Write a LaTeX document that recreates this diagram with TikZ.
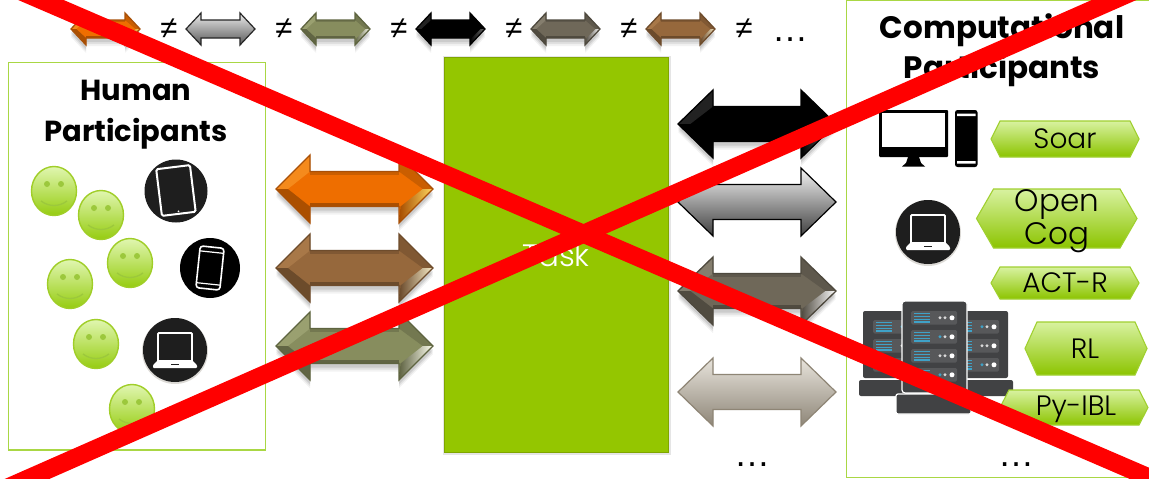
\documentclass[tikz,border=0pt]{standalone}
\usepackage{fontspec}
\setmainfont{Poppins}
\newfontfamily\lightfont{Poppins Light}
\newfontfamily\dotfont{Liberation Sans}
\usetikzlibrary{calc}
\definecolor{boxgreen}{HTML}{A9D744}
\definecolor{taskgreen}{HTML}{94C600}
\definecolor{taskedge}{HTML}{7FA600}
\definecolor{hexedge}{HTML}{A0D030}
\definecolor{hextop}{HTML}{D8F2A0}
\definecolor{hexbot}{HTML}{8CC400}
\definecolor{eyegreen}{HTML}{9CC83C}
\definecolor{smileedge}{HTML}{A0CE28}
\definecolor{smiletop}{HTML}{E0F6B0}
\definecolor{smilebot}{HTML}{96CC10}
\definecolor{xred}{HTML}{FF0000}
\definecolor{lapdark}{HTML}{1E1E1E}
\definecolor{lighttop}{HTML}{E8E4DC}
\definecolor{lightbot}{HTML}{8E8678}
\definecolor{lightedge}{HTML}{8E8575}
\definecolor{rackdark}{HTML}{414244}
\definecolor{rackslot}{HTML}{57585A}
\definecolor{rackblue}{HTML}{3FA2C8}
\definecolor{orgE}{HTML}{A85008}\definecolor{orgA}{HTML}{F58A1C}\definecolor{orgB}{HTML}{EE6E00}\definecolor{orgH}{HTML}{FFD860}
\definecolor{brnE}{HTML}{6E4C2C}\definecolor{brnA}{HTML}{A87848}\definecolor{brnB}{HTML}{96683C}\definecolor{brnH}{HTML}{F8ECC8}
\definecolor{olvE}{HTML}{5E6440}\definecolor{olvA}{HTML}{9AA070}\definecolor{olvB}{HTML}{878D5E}\definecolor{olvH}{HTML}{FFFFF0}
\definecolor{blkE}{HTML}{000000}\definecolor{blkA}{HTML}{222222}\definecolor{blkB}{HTML}{000000}\definecolor{blkH}{HTML}{707070}
\definecolor{tauE}{HTML}{4E493E}\definecolor{tauA}{HTML}{857E6E}\definecolor{tauB}{HTML}{6F6859}\definecolor{tauH}{HTML}{FFFFFF}
\tikzset{
  x=1pt,y=-1pt,
  titletext/.style={font=\fontsize{29}{41}\selectfont\bfseries,align=center,text=black},
  comptext/.style={font=\fontsize{31}{40}\selectfont\bfseries,align=center,text=black},
  hextext/.style={font=\lightfont\fontsize{28}{33}\selectfont,align=center,text=black},
  bighextext/.style={font=\lightfont\fontsize{31}{33}\selectfont,align=center,text=black},
  tasktext/.style={font=\lightfont\fontsize{31}{31}\selectfont,text=white},
  neqsign/.style={font=\dotfont\itshape\fontsize{31}{31}\selectfont,text=black,inner sep=0pt},
  dotstext/.style={font=\dotfont\fontsize{36}{36}\selectfont,text=black,anchor=base,inner sep=0pt},
  panel/.style={draw=boxgreen,line width=1.6pt,fill=white},
  hexshape/.style={draw=hexedge,line width=1.1pt,top color=hextop,bottom color=hexbot},
  smile/.style={draw=smileedge,line width=1.4pt,top color=smiletop,bottom color=smilebot},
  slash/.style={draw=xred,line width=18pt}
}
% arrow: x y halfwidth halfheight shaft-half head-length colour-prefix
\newcommand\bevarrow[7]{%
 \pgfmathsetmacro\xa{#1-#3}\pgfmathsetmacro\xb{#1+#3}%
 \pgfmathsetmacro\xc{#1-#3+#6}\pgfmathsetmacro\xd{#1+#3-#6}%
 \pgfmathsetmacro\yt{#2-#4}\pgfmathsetmacro\yb{#2+#4}%
 \pgfmathsetmacro\st{#2-#5}\pgfmathsetmacro\sb{#2+#5}%
 \pgfmathsetmacro\ia{\xa+#6*.35}\pgfmathsetmacro\ib{\xb-#6*.3}%
 \pgfmathsetmacro\ma{\st+#5*.22}\pgfmathsetmacro\mb{\sb-#5*.22}%
 \def\arrpath{(\xa,#2)--(\xc,\yt)--(\xc,\st)--(\xd,\st)--(\xd,\yt)--(\xb,#2)--(\xd,\yb)--(\xd,\sb)--(\xc,\sb)--(\xc,\yb)--cycle}%
 \foreach \d/\o in {8/.05,6/.07,4/.09}{\fill[black,opacity=\o,shift={(0,\d)}] \arrpath;}%
 \fill[#7B] \arrpath;
 \fill[#7A] (\xa,#2)--(\xc,\yt)--(\xc,\st)--(\ia,#2)--cycle;
 \fill[#7B!72!black] (\xa,#2)--(\xc,\yb)--(\xc,\sb)--(\ia,#2)--cycle;
 \fill[#7B!85!black] (\xb,#2)--(\xd,\yt)--(\xd,\st)--(\ib,#2)--cycle;
 \fill[#7B!85!black] (\xc,\st) rectangle (\xd,\ma);
 \fill[#7B!72!black] (\xc,\mb) rectangle (\xd,\sb);
 \shade[left color=#7B!70!black,right color=#7H] (\xb,#2)--(\ib,#2)--(\xd+1.5,\sb)--(\xd,\yb)--cycle;
 \draw[#7E,line width=1.3pt,line join=miter] \arrpath;
}
% plain gradient arrow
\newcommand\plainarrow[9]{%
 \pgfmathsetmacro\xa{#1-#3}\pgfmathsetmacro\xb{#1+#3}%
 \pgfmathsetmacro\xc{#1-#3+#6}\pgfmathsetmacro\xd{#1+#3-#6}%
 \pgfmathsetmacro\yt{#2-#4}\pgfmathsetmacro\yb{#2+#4}%
 \pgfmathsetmacro\st{#2-#5}\pgfmathsetmacro\sb{#2+#5}%
 \draw[#9,line width=1.2pt,top color=#7,bottom color=#8] (\xa,#2)--(\xc,\yt)--(\xc,\st)--(\xd,\st)--(\xd,\yt)--(\xb,#2)--(\xd,\yb)--(\xd,\sb)--(\xc,\sb)--(\xc,\yb)--cycle;
}
\newcommand\smiley[2]{%
 \shade[smile] (#1,#2) ellipse (22.5 and 24.5);
 \fill[eyegreen] (#1-7,#2-7) circle (3);
 \fill[eyegreen] (#1+7,#2-7) circle (3);
 \draw[eyegreen,line width=1.3pt] (#1-13,#2+10) .. controls (#1-5,#2+16) and (#1+5,#2+16) .. (#1+13,#2+10);
}
\newcommand\laptop[1]{%
 \fill[lightbot,opacity=.3,shift={(0,1)}] (#1) circle (33);
 \fill[lapdark] (#1) circle (32);
 \begin{scope}[shift={(#1)}]
  \draw[white,line width=1.8pt,fill=lapdark,rounded corners=1pt] (-17,-17)--(17,-17)--(17,12)--(-17,12)--cycle;
  \fill[white,rounded corners=1pt] (-22,15)--(-17,10)--(17,10)--(22,15)--(22,18)--(-22,18)--cycle;
  \fill[lapdark] (-4,13.5) rectangle (4,14.8);
 \end{scope}
}
\newcommand\serverrow[3]{% x y lit
 \fill[rackslot,rounded corners=1.5pt] (#1,#2) rectangle ++(46,13.5);
 \foreach \k in {2.5,5.5,8.5,11}{\draw[rackblue,line width=1.3pt] (#1+3,#2+\k)--(#1+19,#2+\k);}
 \fill[#3] (#1+29,#2+6.8) circle (1.6);
 \fill[white!70!gray] (#1+34,#2+6.8) circle (1.6);
 \fill[white] (#1+41,#2+6.8) circle (2.5);
}
\newcommand\hexlabel[5]{% x1 x2 y1 y2 inset
 \pgfmathsetmacro\hm{(#3+#4)/2}%
 \pgfmathsetmacro\hi{#1+#5}\pgfmathsetmacro\hj{#2-#5}%
 \shade[hexshape] (#1,\hm)--(\hi,#3)--(\hj,#3)--(#2,\hm)--(\hj,#4)--(\hi,#4)--cycle;
}
\begin{document}
\begin{tikzpicture}
\useasboundingbox (0,0) rectangle (1149,479);
\fill[white] (0,0) rectangle (1149,479);
\begin{scope}
\clip (0,0) rectangle (1149,479);
% panels
\draw[panel] (8.5,62.5) rectangle (265.5,450);
\draw[panel] (846.5,0.5) rectangle (1170,477.5);
\fill[black!10] (442.5,55.5) rectangle (670.5,454.5);
\draw[fill=taskgreen,draw=taskedge,line width=1.2pt] (444.5,57.5) rectangle (668.5,452.5);
\node[tasktext] (task) at (556,255) {Task};
% titles
\node[titletext] (human) at (136,115) {Human\\Participants};
\node[comptext] (comp) at (1002,50) {Computational\\Participants};
% top row
\bevarrow{105.5}{29}{34.5}{16}{9}{15}{org}
\plainarrow{220.5}{29}{34.5}{16}{9}{15}{white!85!gray}{gray!70!black}{black!85}
\bevarrow{335.5}{29}{34.5}{16}{9}{15}{olv}
\bevarrow{450.5}{29}{34.5}{16}{9}{15}{blk}
\bevarrow{565.5}{29}{34.5}{16}{9}{15}{tau}
\bevarrow{680.5}{29}{34.5}{16}{9}{15}{brn}
\foreach \nx/\nn in {169/a,284/b,399/c,514/d,629/e,744/f}{\node[neqsign] (neq\nn) at (\nx,29) {≠};}
\node[dotstext] (topdots) at (790,41) {…};
% large arrows left
\bevarrow{354.5}{189}{78.5}{34}{17.5}{34}{org}
\bevarrow{354.5}{268}{78.5}{34}{17.5}{34}{brn}
\bevarrow{354.5}{346}{78.5}{34}{17.5}{34}{olv}
% large arrows right
\bevarrow{757}{124}{79}{34}{17.5}{35}{blk}
\plainarrow{757}{202}{79}{34}{17.5}{35}{white!92!gray}{black!75}{black}
\bevarrow{757}{291}{79}{34}{17.5}{35}{tau}
\plainarrow{757}{392}{79}{34}{17.5}{35}{lighttop}{lightbot}{lightedge}
\node[dotstext] (middots) at (752,466) {…};
% smileys
\smiley{54}{191}\smiley{101}{215}\smiley{130}{263}\smiley{70}{284}\smiley{96}{344}\smiley{132}{409}
% tablet
\fill[lapdark] (176,191) circle (31.5);
\draw[white,line width=2pt,fill=lapdark,rounded corners=1.5pt,rotate around={7:(176,191)}] (159,167) rectangle (193,214);
\fill[white,rotate around={7:(176,191)}] (176,211.5) circle (1);
% phone
\fill[black] (210,268) circle (30);
\draw[white,line width=1.6pt,fill=black,rounded corners=3pt,rotate around={-6:(210,268)}] (198,247) rectangle (222,289);
\draw[white,line width=1.2pt,rotate around={-6:(210,268)}] (198,252)--(222,252) (198,284)--(222,284);
% laptops
\laptop{175,350}
\laptop{928,232}
% desktop
\fill[black,rounded corners=1pt] (879,110) rectangle (948,157);
\fill[white] (882,113) rectangle (945,147);
\fill[black] (908,157)--(919,157)--(921,163)--(925,166.5)--(902,166.5)--(906,163)--cycle;
\fill[black,rounded corners=2.5pt] (955,110) rectangle (977.5,167);
\fill[white] (957,113.5) rectangle (975.5,116) (957,161) rectangle (975.5,163.5);
% servers
\fill[rackdark,rounded corners=2pt] (863,311) rectangle (905,378);
\fill[rackdark,rounded corners=2pt] (859,380) rectangle (905,396);
\fill[rackdark,rounded corners=2pt] (962,311) rectangle (1008,378);
\fill[rackdark,rounded corners=2pt] (962,380) rectangle (1013,396);
\serverrow{873}{320}{rackblue}\serverrow{873}{339}{white!70!gray}\serverrow{873}{358}{rackblue}
\serverrow{953}{320}{rackblue}\serverrow{953}{339}{white!70!gray}\serverrow{953}{358}{rackblue}
\draw[white,line width=1.2pt,fill=rackdark,rounded corners=3pt] (902,301) rectangle (967,393);
\draw[white,line width=1.2pt,fill=rackdark,rounded corners=2pt] (896,394) rectangle (971,414);
\serverrow{911}{311}{white!70!gray}\serverrow{911}{330}{rackblue}\serverrow{911}{349}{white!70!gray}\serverrow{911}{368}{rackblue}
% hex labels
\hexlabel{991}{1139}{121}{157}{9}
\node[hextext] (soar) at (1065,139) {Soar};
\hexlabel{976.5}{1137}{189}{248}{17}
\node[bighextext] (cog) at (1057,221) {Open\\Cog};
\hexlabel{991}{1139}{267}{299}{9}
\node[hextext] (act) at (1065,283) {ACT-R};
\hexlabel{1025}{1147}{322}{375}{12}
\node[hextext] (rl) at (1085,349) {RL};
\hexlabel{1000}{1148}{390}{425}{9}
\node[hextext] (ibl) at (1076,409) {Py-IBL};
\node[dotstext] (botdots) at (1016,466) {…};
% red cross
\draw[slash] (1,-17.2)--(1189,494.7);
\draw[slash] (-13,496.6)--(1154,-17.6);
\end{scope}
\end{tikzpicture}
\end{document}
